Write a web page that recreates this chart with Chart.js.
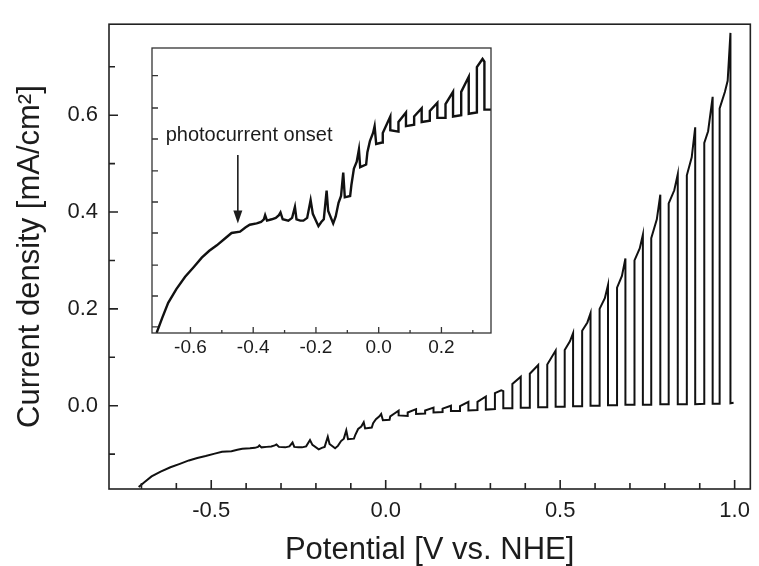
<!DOCTYPE html>
<html>
<head>
<meta charset="utf-8">
<script src="https://cdn.jsdelivr.net/npm/chart.js@4.4.1/dist/chart.umd.min.js"></script>
<style>
  html, body { margin: 0; padding: 0; background: #fff; }
  #wrap { position: relative; width: 759px; height: 566px; }
  #main { position: absolute; left: 0; top: 0; }
  #inset { position: absolute; left: 150px; top: 46px; }
</style>
</head>
<body>
<div id="wrap">
  <canvas id="main" width="759" height="566"></canvas>
  <canvas id="inset" width="345" height="312"></canvas>
</div>
<script>
// photocurrent under chopped light
var potential = [
  -0.708, -0.690, -0.671, -0.645, -0.617, -0.590, -0.564, -0.540, -0.516, -0.490,
  -0.469, -0.442, -0.425, -0.411, -0.389, -0.375, -0.366, -0.362, -0.356, -0.341,
  -0.328, -0.318, -0.313, -0.306, -0.288, -0.276, -0.267, -0.262, -0.250, -0.240,
  -0.228, -0.217, -0.210, -0.192, -0.183, -0.175, -0.166, -0.161, -0.145, -0.137,
  -0.128, -0.120, -0.113, -0.108, -0.091, -0.087, -0.079, -0.070, -0.063, -0.059,
  -0.040, -0.036, -0.028, -0.018, -0.013, -0.008, 0.011, 0.013, 0.025, 0.037,
  0.037, 0.063, 0.063, 0.087, 0.087, 0.113, 0.113, 0.137, 0.137, 0.163,
  0.163, 0.187, 0.187, 0.213, 0.213, 0.237, 0.237, 0.263, 0.263, 0.287,
  0.287, 0.313, 0.313, 0.331, 0.337, 0.337, 0.363, 0.363, 0.387, 0.387,
  0.413, 0.413, 0.437, 0.437, 0.463, 0.463, 0.487, 0.487, 0.513, 0.513,
  0.528, 0.537, 0.537, 0.563, 0.563, 0.578, 0.587, 0.587, 0.613, 0.613,
  0.628, 0.637, 0.637, 0.663, 0.663, 0.677, 0.687, 0.687, 0.713, 0.713,
  0.728, 0.737, 0.737, 0.761, 0.761, 0.777, 0.787, 0.787, 0.811, 0.811,
  0.827, 0.837, 0.837, 0.863, 0.863, 0.877, 0.887, 0.887, 0.913, 0.913,
  0.924, 0.937, 0.937, 0.957, 0.957, 0.972, 0.980, 0.988, 0.988, 0.997
];
var current = [
  -0.168, -0.157, -0.146, -0.136, -0.127, -0.120, -0.113, -0.108, -0.104, -0.099,
  -0.095, -0.094, -0.091, -0.089, -0.088, -0.087, -0.085, -0.082, -0.086, -0.085,
  -0.084, -0.082, -0.080, -0.085, -0.086, -0.084, -0.076, -0.085, -0.086, -0.086,
  -0.084, -0.071, -0.081, -0.090, -0.087, -0.085, -0.064, -0.079, -0.088, -0.083,
  -0.073, -0.068, -0.051, -0.069, -0.068, -0.060, -0.048, -0.043, -0.034, -0.047,
  -0.045, -0.036, -0.028, -0.022, -0.017, -0.030, -0.029, -0.022, -0.016, -0.010,
  -0.020, -0.021, -0.014, -0.007, -0.017, -0.016, -0.010, -0.004, -0.014, -0.013,
  -0.006, 0.000, -0.011, -0.011, -0.001, 0.008, -0.010, -0.009, 0.008, 0.019,
  -0.008, -0.007, 0.026, 0.032, 0.030, -0.005, -0.005, 0.045, 0.060, -0.004,
  -0.004, 0.066, 0.084, -0.003, -0.003, 0.085, 0.114, -0.002, -0.002, 0.115,
  0.133, 0.150, -0.001, -0.001, 0.155, 0.172, 0.191, 0.000, 0.000, 0.200,
  0.222, 0.249, 0.001, 0.001, 0.244, 0.268, 0.304, 0.002, 0.002, 0.300,
  0.325, 0.353, 0.002, 0.002, 0.346, 0.385, 0.436, 0.003, 0.003, 0.418,
  0.445, 0.478, 0.003, 0.003, 0.476, 0.513, 0.575, 0.003, 0.004, 0.543,
  0.567, 0.638, 0.004, 0.004, 0.614, 0.648, 0.671, 0.770, 0.005, 0.006
];

var mainXTicks  = [-0.7, -0.6, -0.5, -0.4, -0.3, -0.2, -0.1, 0.0, 0.1, 0.2, 0.3, 0.4, 0.5, 0.6, 0.7, 0.8, 0.9, 1.0];
var mainXLabels = [-0.5, 0.0, 0.5, 1.0];
var mainYTicks  = [-0.1, 0.0, 0.1, 0.2, 0.3, 0.4, 0.5, 0.6, 0.7];
var mainYLabels = [0.0, 0.2, 0.4, 0.6];
var insetXTicks  = [-0.6, -0.5, -0.4, -0.3, -0.2, -0.1, 0.0, 0.1, 0.2, 0.3];
var insetXLabels = [-0.6, -0.4, -0.2, 0.0, 0.2];
var insetYTicks  = [-0.1636, -0.141, -0.1184, -0.095, -0.0724, -0.0497, -0.0264, -0.0038, 0.0198];

var onsetLabel = 'photocurrent onset';
var onsetV = -0.449;

var FONT = "'Liberation Sans', Arial, sans-serif";
var INK = '#1c1c1c';

function isIn(list, v) {
  return list.some(function(l) { return Math.abs(l - v) < 1e-9; });
}

function tickLabels(list) {
  return function(v) { return isIn(list, v) ? v.toFixed(1) : ''; };
}

function setTicks(list) {
  return function(scale) {
    scale.ticks = list.map(function(v) { return { value: v }; });
  };
}

// box round the plot area and ticks pointing inward, as in the original
var frameTicks = {
  id: 'frameTicks',
  afterDatasetsDraw: function(chart, args, o) {
    var ctx = chart.ctx, a = chart.chartArea, sx = chart.scales.x, sy = chart.scales.y;
    ctx.save();
    ctx.strokeStyle = o.color;
    ctx.lineWidth = o.width;
    ctx.strokeRect(a.left, a.top, a.right - a.left, a.bottom - a.top);
    ctx.beginPath();
    o.xTicks.forEach(function(v) {
      var px = sx.getPixelForValue(v);
      var len = isIn(o.xMajor, v) ? o.majorLen : o.minorLen;
      ctx.moveTo(px, a.bottom);
      ctx.lineTo(px, a.bottom - len);
    });
    o.yTicks.forEach(function(v) {
      var py = sy.getPixelForValue(v);
      var len = isIn(o.yMajor, v) ? o.majorLen : o.minorLen;
      ctx.moveTo(a.left, py);
      ctx.lineTo(a.left + len, py);
    });
    ctx.stroke();
    ctx.restore();
  }
};

var onsetArrow = {
  id: 'onsetArrow',
  afterDatasetsDraw: function(chart) {
    var ctx = chart.ctx, sx = chart.scales.x, sy = chart.scales.y;
    var x = sx.getPixelForValue(onsetV);
    var y0 = sy.getPixelForValue(-0.038);
    var y1 = sy.getPixelForValue(-0.088);
    ctx.save();
    ctx.strokeStyle = INK;
    ctx.fillStyle = INK;
    ctx.lineWidth = 1.6;
    ctx.beginPath();
    ctx.moveTo(x, y0);
    ctx.lineTo(x, y1 - 10);
    ctx.stroke();
    ctx.beginPath();
    ctx.moveTo(x - 4.5, y1 - 13);
    ctx.lineTo(x + 4.5, y1 - 13);
    ctx.lineTo(x, y1);
    ctx.closePath();
    ctx.fill();
    ctx.font = '20px ' + FONT;
    ctx.textBaseline = 'middle';
    ctx.textAlign = 'left';
    ctx.fillText(onsetLabel, sx.getPixelForValue(-0.679), sy.getPixelForValue(-0.024));
    ctx.restore();
  }
};

var points = potential.map(function(v, i) { return { x: v, y: current[i] }; });

function lineSet(width) {
  return {
    data: points,
    showLine: true,
    borderColor: '#111',
    borderWidth: width,
    pointRadius: 0,
    tension: 0,
    borderJoinStyle: 'miter'
  };
}

new Chart(document.getElementById('main'), {
  type: 'scatter',
  data: { datasets: [lineSet(2)] },
  plugins: [frameTicks],
  options: {
    responsive: false,
    animation: false,
    events: [],
    layout: { padding: { top: 14, right: 3, left: 0, bottom: 0 } },
    plugins: {
      legend: { display: false },
      tooltip: { enabled: false },
      frameTicks: {
        color: '#222', width: 1.6, majorLen: 9, minorLen: 6,
        xTicks: mainXTicks, xMajor: mainXLabels,
        yTicks: mainYTicks, yMajor: mainYLabels
      }
    },
    scales: {
      x: {
        type: 'linear', min: -0.793, max: 1.045,
        afterBuildTicks: setTicks(mainXTicks),
        afterFit: function(s) { s.height = 77; },
        grid: { display: false, drawTicks: false },
        border: { display: false },
        ticks: {
          autoSkip: false, maxRotation: 0, padding: 9, color: INK,
          font: { family: FONT, size: 22 },
          callback: tickLabels(mainXLabels)
        },
        title: {
          display: true, text: 'Potential [V vs. NHE]', color: INK,
          font: { family: FONT, size: 31, lineHeight: 1 },
          padding: { top: 0, bottom: 0 }
        }
      },
      y: {
        type: 'linear', min: -0.172, max: 0.788,
        afterBuildTicks: setTicks(mainYTicks),
        afterFit: function(s) { s.width = 109; },
        grid: { display: false, drawTicks: false },
        border: { display: false },
        ticks: {
          autoSkip: false, padding: 11, color: INK,
          font: { family: FONT, size: 22 },
          callback: tickLabels(mainYLabels)
        },
        title: {
          display: true, text: 'Current density [mA/cm²]', color: INK,
          font: { family: FONT, size: 31, lineHeight: 1 },
          padding: { top: 15, bottom: 0 }
        }
      }
    }
  }
});

new Chart(document.getElementById('inset'), {
  type: 'scatter',
  data: { datasets: [lineSet(2.4)] },
  plugins: [frameTicks, onsetArrow],
  options: {
    responsive: false,
    animation: false,
    events: [],
    layout: { padding: { top: 2, right: 4, left: 2, bottom: 0 } },
    plugins: {
      legend: { display: false },
      tooltip: { enabled: false },
      frameTicks: {
        color: '#333', width: 1.3, majorLen: 6, minorLen: 3,
        xTicks: insetXTicks, xMajor: insetXLabels,
        yTicks: insetYTicks, yMajor: insetYTicks
      }
    },
    scales: {
      x: {
        type: 'linear', min: -0.7226, max: 0.358,
        afterBuildTicks: setTicks(insetXTicks),
        afterFit: function(s) { s.height = 25; },
        grid: { display: false, drawTicks: false },
        border: { display: false },
        ticks: {
          autoSkip: false, maxRotation: 0, padding: 3, color: INK,
          font: { family: FONT, size: 19 },
          callback: tickLabels(insetXLabels)
        }
      },
      y: {
        type: 'linear', min: -0.168, max: 0.040,
        display: false
      }
    }
  }
});
</script>
</body>
</html>
